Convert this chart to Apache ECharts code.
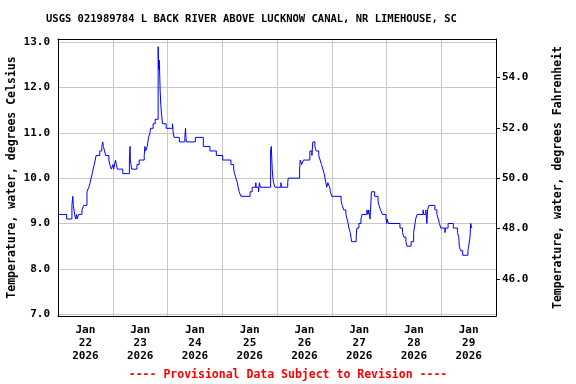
<!DOCTYPE html>
<html>
<head>
<meta charset="utf-8">
<script src="https://cdn.jsdelivr.net/npm/echarts@6/dist/echarts.min.js"></script>
<style>html,body{margin:0;padding:0;background:#fff}#c{width:576px;height:384px}</style>
</head>
<body>
<div id="c"></div>
<script>
// hours since 2026-01-22 00:00, water temperature (deg C) at each change
const hours = [0,3.8,6.1,6.5,6.7,7.0,7.3,7.7,8.1,8.4,9.0,10.5,11.3,12.7,13.5,14.1,14.5,15.0,15.4,15.9,16.3,16.7,18.3,19.2,19.6,19.9,20.4,20.9,22.3,22.7,23.4,24.1,24.4,25.2,25.6,26.0,28.4,31.3,31.6,31.7,32.0,32.3,34.6,35.6,37.8,38.1,38.4,39.1,39.7,40.3,40.6,41.7,42.6,43.9,44.1,44.4,44.8,45.1,45.4,45.8,47.4,50.2,50.5,50.9,53.2,55.6,55.9,56.1,56.3,60.2,
63.7,66.6,69.4,72.2,75.8,77.0,77.4,78.0,78.6,79.0,79.4,80.2,84.2,85.1,86.7,86.8,87.9,88.3,88.7,93.2,93.5,93.9,94.2,94.5,95.1,
97.7,98.0,100.7,100.9,105.9,106.2,106.8,107.6,110.4,111.3,111.7,112.6,113.2,114.3,114.9,115.5,116.1,116.7,117.4,117.8,
118.3,119.1,119.4,120.0,124.1,124.6,125.2,126.2,126.7,127.2,127.5,128.1,128.4,128.7,130.7,131.0,131.9,132.8,133.3,135.4,135.9,136.2,136.5,136.8,137.4,138.8,140.3,140.7,141.4,142.2,143.8,144.1,144.3,144.8,149.9,151.0,151.6,152.5,153.0,154.8,155.9,156.2,156.5,156.8,157.4,160.0,160.3,161.2,161.4,161.7,162.0,162.6,165.2,166.1,166.7,167.2,167.8,169.6,169.9,171.0,173.3,175.1,175.7,175.9,176.5,177.4,179.7,180.0,180.6,180.9,181.4,181.7];
const tempC = [9.2,9.1,9.4,9.6,9.4,9.3,9.2,9.1,9.2,9.1,9.2,9.3,9.4,9.7,9.8,9.9,10.0,10.1,10.2,10.3,10.4,10.5,10.6,10.7,10.8,10.7,10.6,10.5,10.4,10.3,10.2,10.3,10.2,10.4,10.3,10.2,10.1,10.4,10.7,10.4,10.3,10.2,10.3,10.4,10.5,10.7,10.6,10.7,10.9,11.0,11.1,11.2,11.3,12.9,12.4,12.6,11.9,11.6,11.4,11.2,11.1,11.2,11.0,10.9,10.8,10.9,11.1,10.9,10.8,10.9,
10.7,10.6,10.5,10.4,10.3,10.2,10.1,10.0,9.9,9.8,9.7,9.6,9.7,9.8,9.9,9.8,9.7,9.9,9.8,10.6,10.7,10.2,10.0,9.9,9.8,
9.9,9.8,9.9,10.0,10.2,10.4,10.3,10.4,10.6,10.5,10.8,10.7,10.6,10.5,10.4,10.3,10.2,10.1,9.9,9.8,
9.9,9.8,9.7,9.6,9.5,9.4,9.3,9.2,9.1,9.0,8.9,8.8,8.7,8.6,8.7,8.9,9.0,9.1,9.2,9.3,9.2,9.3,9.2,9.1,9.7,9.6,9.5,9.4,9.3,9.2,9.1,9.0,9.1,9.0,8.9,8.8,8.7,8.6,8.5,8.6,8.8,8.9,9.0,9.1,9.2,9.3,9.2,9.3,9.2,9.0,9.3,9.4,9.3,9.2,9.1,9.0,8.9,8.8,8.9,9.0,8.9,8.8,8.7,8.5,8.4,8.3,8.4,8.5,8.7,9.0,8.9,8.9];
const dayLabels = ['Jan\n22\n2026','Jan\n23\n2026','Jan\n24\n2026','Jan\n25\n2026','Jan\n26\n2026','Jan\n27\n2026','Jan\n28\n2026','Jan\n29\n2026'];
const celsiusTicks = [7,8,9,10,11,12,13];
const fahrenheitTicks = [46,48,50,52,54];
const title = 'USGS 021989784 L BACK RIVER ABOVE LUCKNOW CANAL, NR LIMEHOUSE, SC';
const footer = '---- Provisional Data Subject to Revision ----';

const cMin = 6.96, cMax = 13.07;
const FONT = '"DejaVu Sans Mono", monospace';
const txt = (size) => ({fontFamily: FONT, fontWeight: 'bold', fontSize: size, color: '#000'});
const chart = echarts.init(document.getElementById('c'), null, {renderer: 'canvas'});
const labelHours = dayLabels.map((d, i) => i * 24 + 12);
const innerDayBounds = [24,48,72,96,120,144,168];

chart.setOption({
  animation: false,
  backgroundColor: '#fff',
  grid: {left: 58, right: 80, top: 39, bottom: 68, show: false, containLabel: false, outerBoundsMode: 'none'},
  graphic: [
    {type: 'text', left: 46, top: 14, style: {text: title, font: 'bold 10.5px ' + FONT, fill: '#000'}},
    {type: 'text', left: 'center', top: 369, style: {text: footer, font: 'bold 11.5px ' + FONT, fill: '#ff0000'}}
  ],
  xAxis: [{
    type: 'value', min: 0, max: 192, position: 'bottom',
    axisLine: {show: true, onZero: false, lineStyle: {color: '#000', width: 1}},
    axisTick: {show: false, customValues: innerDayBounds},
    splitLine: {show: true, lineStyle: {color: '#c8c8c8', width: 1}},
    axisLabel: Object.assign({
      customValues: labelHours, margin: 8, lineHeight: 13,
      formatter: v => dayLabels[Math.round((v - 12) / 24)] || ''
    }, txt(11))
  }, {
    type: 'value', min: 0, max: 192, position: 'top',
    axisLine: {show: true, onZero: false, lineStyle: {color: '#000', width: 1}},
    axisTick: {show: false}, axisLabel: {show: false}, splitLine: {show: false}
  }],
  yAxis: [
    {
      type: 'value', min: cMin, max: cMax, position: 'left',
      name: 'Temperature, water, degrees Celsius', nameLocation: 'middle', nameGap: 40,
      nameMoveOverlap: false,
      nameTextStyle: txt(11.5),
      axisLine: {show: true, onZero: false, lineStyle: {color: '#000', width: 1}},
      axisTick: {show: false, customValues: celsiusTicks},
      splitLine: {show: true, lineStyle: {color: '#c8c8c8', width: 1}},
      axisLabel: Object.assign({customValues: celsiusTicks, formatter: v => v.toFixed(1), margin: 8}, txt(11))
    },
    {
      type: 'value', min: cMin * 1.8 + 32, max: cMax * 1.8 + 32, position: 'right',
      name: 'Temperature, water, degrees Fahrenheit', nameLocation: 'middle', nameGap: 56,
      nameTextStyle: txt(11.5),
      axisLine: {show: true, onZero: false, lineStyle: {color: '#000', width: 1}},
      axisTick: {show: true, inside: false, length: 4, customValues: fahrenheitTicks, lineStyle: {color: '#000'}},
      splitLine: {show: false},
      axisLabel: Object.assign({customValues: fahrenheitTicks, formatter: v => v.toFixed(1), margin: 6}, txt(11))
    }
  ],
  series: [{
    type: 'line', xAxisIndex: 0, yAxisIndex: 0, step: 'end', showSymbol: false, symbol: 'none',
    lineStyle: {color: '#0000ff', width: 1},
    data: hours.map((h, i) => [h, tempC[i]])
  }]
});
</script>
</body>
</html>
